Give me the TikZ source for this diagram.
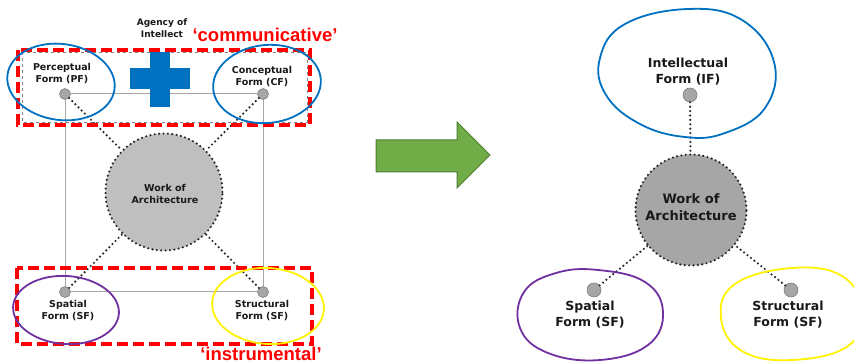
\documentclass[tikz,border=0pt]{standalone}
\usepackage{fontspec}
\setmainfont{DejaVu Sans}
\newfontfamily\arialfont{Liberation Sans}
\definecolor{myblue}{HTML}{0070C0}
\definecolor{mypurple}{HTML}{7030A0}
\definecolor{myyellow}{HTML}{FFF200}
\definecolor{myred}{HTML}{FF0000}
\definecolor{mygreen}{HTML}{70AD47}
\definecolor{mygreendark}{HTML}{507E32}
\definecolor{dotfill}{HTML}{A6A6A6}
\definecolor{bigleft}{HTML}{BFBFBF}
\definecolor{bigright}{HTML}{A6A6A6}
\tikzset{
  dotline/.style={line width=2.4pt,line cap=round,dash pattern=on 0pt off 4.4pt},
  smalldot/.style={circle,draw=gray,fill=dotfill,line width=0.6pt,minimum size=#1,inner sep=0pt},
  bigcircle/.style={circle,draw=black!85,dotline,inner sep=0pt,minimum size=#1},
  lbl/.style 2 args={font=\bfseries\fontsize{#1}{#2}\selectfont,align=center,text=black!90,inner sep=0pt},
  conn/.style={draw=black!85,dotline},
  square/.style={draw=black!35,line width=1pt},
  redbox/.style={draw=myred,line width=3.5pt,dash pattern=on 11pt off 5pt},
  redlbl/.style={font=\arialfont\bfseries\fontsize{18.5}{22}\selectfont,text=myred,inner sep=0pt},
  loop/.style={line width=1.8pt}
}
\begin{document}
\begin{tikzpicture}[x=1pt,y=-1pt]
\useasboundingbox (0,0) rectangle (854,363);
% ---------- left diagram ----------
\node[smalldot=11pt] (pf) at (65,94) {};
\node[smalldot=11pt] (cf) at (263,94) {};
\node[smalldot=11pt] (sf) at (65,292) {};
\node[smalldot=11pt] (stf) at (263,292) {};
\draw[square] (pf) -- (cf);
\draw[square] (cf) -- (stf);
\draw[square] (stf) -- (sf);
\draw[square] (sf) -- (pf);
\node[bigcircle=117pt,fill=bigleft] (wa) at (164,192) {};
\node[lbl={9.5}{12}] at (165,194) {Work of\\Architecture};
\draw[conn] (pf) -- (wa);
\draw[conn] (cf) -- (wa);
\draw[conn] (sf) -- (wa);
\draw[conn] (stf) -- (wa);
% boxes
\draw[draw=gray,dashed,line width=0.8pt] (22,52) rectangle (307,122);
\draw[redbox] (18,50) rectangle (310,125);
\draw[redbox] (17,268) rectangle (312,344);
% cross
\fill[myblue] (150,52) rectangle (170,107);
\fill[myblue] (130,68) rectangle (190,89);
% labels
\node[lbl={9.5}{12}] at (62,74) {Perceptual\\Form (PF)};
\node[lbl={9.5}{12}] at (262,77) {Conceptual\\Form (CF)};
\node[lbl={9.5}{12}] at (68,311) {Spatial\\Form (SF)};
\node[lbl={9.5}{12}] at (262,311) {Structural\\Form (SF)};
\node[lbl={9}{11.5}] at (162,28) {Agency of\\Intellect};
\node[redlbl] at (265,35) {‘communicative’};
\node[redlbl] at (261,354) {‘instrumental’};
% hand-drawn loops
\draw[myblue,loop,rotate around={-8:(61,82)}] (61,82) ellipse [x radius=54pt,y radius=38pt];
\draw[myblue,loop,rotate around={6:(267,84)}] (267,84) ellipse [x radius=54pt,y radius=39pt];
\draw[mypurple,loop,rotate around={-4:(66,310)}] (66,310) ellipse [x radius=53pt,y radius=34pt];
\draw[myyellow,loop,rotate around={-4:(268,306)}] (268,306) ellipse [x radius=56pt,y radius=38pt];
% ---------- arrow ----------
\draw[fill=mygreen,draw=mygreendark,line width=1pt]
  (376,140) -- (457,140) -- (457,122) -- (490,155) -- (457,188) -- (457,172) -- (376,172) -- cycle;
% ---------- right diagram ----------
\node[bigcircle=111pt,fill=bigright] (wa2) at (691,210) {};
\node[lbl={13}{17}] at (691,207) {Work of\\Architecture};
\node[smalldot=14pt] (if2) at (690,95) {};
\node[smalldot=14pt] (sf2) at (594,290) {};
\node[smalldot=14pt] (stf2) at (791,290) {};
\draw[conn] (if2) -- (wa2);
\draw[conn] (sf2) -- (wa2);
\draw[conn] (stf2) -- (wa2);
\node[lbl={12.5}{16}] at (688,72) {Intellectual\\Form (IF)};
\node[lbl={12.5}{16}] at (590,315) {Spatial\\Form (SF)};
\node[lbl={12.5}{16}] at (788,315) {Structural\\Form (SF)};
\draw[myblue,loop] plot[smooth cycle,tension=0.7] coordinates
  {(688,9) (742,20) (774,62) (765,108) (725,133) (685,137) (640,124) (606,95) (600,58) (625,24)};
\draw[mypurple,loop] plot[smooth cycle,tension=0.7] coordinates
  {(598,270) (645,282) (663,312) (648,345) (600,360) (548,353) (520,328) (524,292) (556,273)};
\draw[myyellow,loop] plot[smooth cycle,tension=0.7] coordinates
  {(792,268) (842,276) (862,310) (848,346) (792,360) (742,351) (721,318) (735,284)};
\end{tikzpicture}
\end{document}
